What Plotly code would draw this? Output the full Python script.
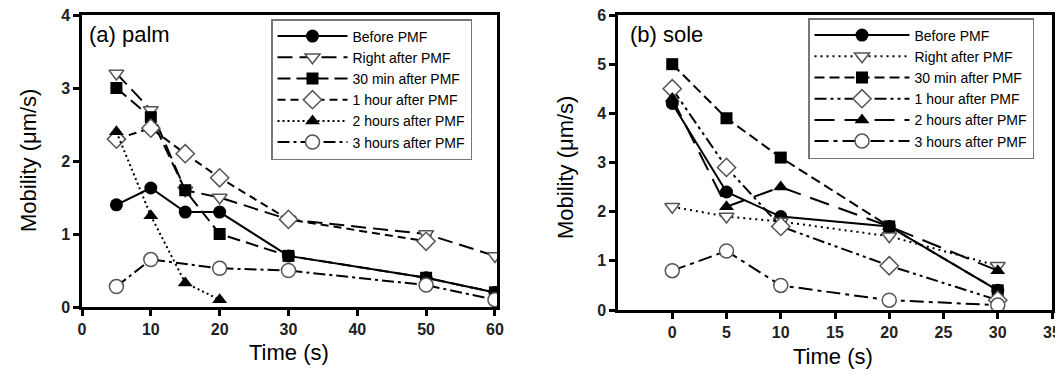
import plotly.graph_objects as go

# ---------------- data ----------------
series_names = ["Before PMF", "Right after PMF", "30 min after PMF",
                "1 hour after PMF", "2 hours after PMF", "3 hours after PMF"]

# (a) palm
palm_time = [5, 10, 15, 20, 30, 50, 60]
palm_before = [1.4, 1.63, 1.3, 1.3, 0.7, 0.4, 0.2]
palm_right_after = [3.2, 2.7, 1.6, 1.5, 1.2, 1.0, 0.7]
palm_30min = [3.0, 2.6, 1.6, 1.0, 0.7, 0.4, 0.2]
palm_1h_time = [5, 10, 15, 20, 30, 50]
palm_1h = [2.3, 2.45, 2.1, 1.77, 1.2, 0.9]
palm_2h_time = [5, 10, 15, 20]
palm_2h = [2.4, 1.25, 0.33, 0.1]
palm_3h_time = [5, 10, 20, 30, 50, 60]
palm_3h = [0.28, 0.65, 0.53, 0.5, 0.3, 0.1]

# (b) sole
sole_time = [0, 5, 10, 20, 30]
sole_before = [4.2, 2.4, 1.9, 1.7, 0.4]
sole_right_after = [2.1, 1.9, 1.8, 1.5, 0.9]
sole_30min = [5.0, 3.9, 3.1, 1.7, 0.4]
sole_1h = [4.5, 2.9, 1.7, 0.9, 0.2]
sole_2h = [4.3, 2.1, 2.5, 1.7, 0.8]
sole_3h = [0.8, 1.2, 0.5, 0.2, 0.1]

palm_xticks = [0, 10, 20, 30, 40, 50, 60]
sole_xticks = [0, 5, 10, 15, 20, 25, 30, 35]
palm_yticks = [0, 1, 2, 3, 4]
sole_yticks = [0, 1, 2, 3, 4, 5, 6]

# ---------------- styles ----------------
FONT = "Liberation Sans, Arial, sans-serif"
OPEN_LINE = dict(color="#555555", width=1.5)
markers = [
    dict(symbol="circle", size=13, color="black"),
    dict(symbol="triangle-down", size=13, color="white", line=OPEN_LINE),
    dict(symbol="square", size=12, color="black"),
    dict(symbol="diamond", size=14, color="white", line=OPEN_LINE),
    dict(symbol="triangle-up", size=13, color="black"),
    dict(symbol="circle", size=14, color="white", line=OPEN_LINE),
]
palm_dash = ["solid", "15px,7px", "13px,6px", "8px,5px", "2px,3px", "12px,4px,3px,4px"]
sole_dash = ["solid", "2px,4px", "10px,5px", "12px,4px,3px,4px,3px,4px",
             "20px,10px", "14px,5px,4px,5px"]

fig = go.Figure()

palm_series = [(palm_time, palm_before), (palm_time, palm_right_after),
               (palm_time, palm_30min), (palm_1h_time, palm_1h),
               (palm_2h_time, palm_2h), (palm_3h_time, palm_3h)]
sole_series = [(sole_time, s) for s in
               [sole_before, sole_right_after, sole_30min, sole_1h, sole_2h, sole_3h]]

for i, (xs, ys) in enumerate(palm_series):
    fig.add_trace(go.Scatter(
        x=xs, y=ys, name=series_names[i], mode="lines+markers",
        line=dict(color="black", width=2, dash=palm_dash[i]),
        marker=markers[i], xaxis="x", yaxis="y", legend="legend"))

for i, (xs, ys) in enumerate(sole_series):
    fig.add_trace(go.Scatter(
        x=xs, y=ys, name=series_names[i], mode="lines+markers",
        line=dict(color="black", width=2, dash=sole_dash[i]),
        marker=markers[i], xaxis="x2", yaxis="y2", legend="legend2"))

# the page places the figure 8px from the top-left corner (body margin)
OFF = 8
W, H = 1063 - OFF, 381 - OFF
def px_x(p):
    return (p - OFF) / W
def px_y(p):
    return 1 - (p - OFF) / H

axis_common = dict(
    showline=True, linecolor="black", linewidth=2.5, mirror=True,
    ticks="outside", ticklen=6, tickwidth=2.5, tickcolor="black",
    showgrid=False, zeroline=False, automargin=False,
    ticklabeloverflow="allow",
    tickfont=dict(family=FONT, size=16, color="#222", weight="bold"),
)

legend_common = dict(
    xanchor="left", yanchor="top",
    bgcolor="white", bordercolor="#777", borderwidth=1.5,
    font=dict(family=FONT, size=14, color="black"),
    tracegroupgap=0,
)

def label(text, x, y, angle=0, size=22):
    return dict(text=text, x=px_x(x), y=px_y(y), xref="paper", yref="paper",
                xanchor="center", yanchor="middle", showarrow=False, textangle=angle,
                font=dict(family=FONT, size=size, color="black"))

fig.update_layout(
    width=W, height=H,
    paper_bgcolor="white", plot_bgcolor="white",
    margin=dict(l=0, r=0, t=0, b=0, autoexpand=False),
    font=dict(family=FONT, color="black"),
    xaxis=dict(domain=[px_x(82), px_x(497)], range=[0, 60.3], tickvals=palm_xticks,
               anchor="y", **axis_common),
    yaxis=dict(domain=[px_y(307), px_y(15)], range=[0, 4], tickvals=palm_yticks,
               anchor="x", **axis_common),
    xaxis2=dict(domain=[px_x(618), px_x(1052)], range=[-5, 35], tickvals=sole_xticks,
                anchor="y2", **axis_common),
    yaxis2=dict(domain=[px_y(310), px_y(15)], range=[0, 6], tickvals=sole_yticks,
                anchor="x2", **axis_common),
    legend=dict(x=px_x(271), y=px_y(19), itemwidth=70, **legend_common),
    legend2=dict(x=px_x(808), y=px_y(18), itemwidth=95, **legend_common),
    showlegend=True,
    annotations=[
        dict(text="(a) palm", x=px_x(87), y=px_y(34), xref="paper", yref="paper",
             xanchor="left", yanchor="middle", showarrow=False,
             font=dict(family=FONT, size=22, color="black")),
        dict(text="(b) sole", x=px_x(628), y=px_y(34), xref="paper", yref="paper",
             xanchor="left", yanchor="middle", showarrow=False,
             font=dict(family=FONT, size=22, color="black")),
        label("Time (s)", 289, 352),
        label("Time (s)", 833, 356),
        label("Mobility (μm/s)", 28, 161, angle=-90),
        label("Mobility (μm/s)", 565, 168, angle=-90),
    ],
)

fig.write_html("out.html")
